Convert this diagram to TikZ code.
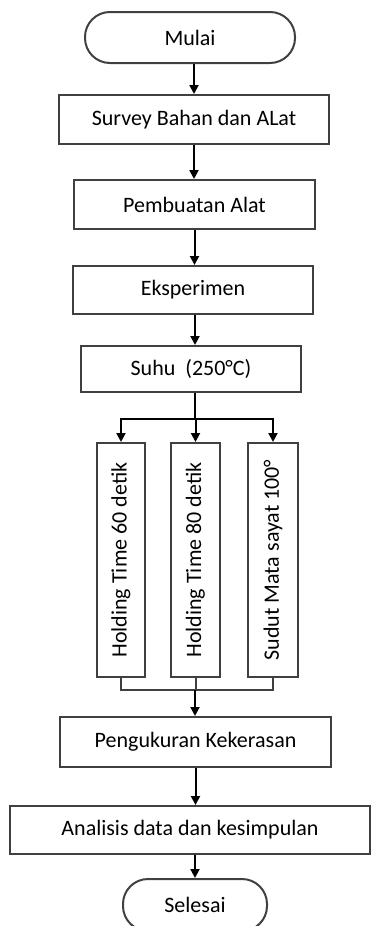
\documentclass[tikz,border=0pt]{standalone}
\usepackage{fontspec}
\setmainfont{Carlito}
\usetikzlibrary{arrows.meta}
\begin{document}
\begin{tikzpicture}[x=0.5pt,y=-0.5pt,
  box/.style={draw=black!75, line width=1pt, align=center, inner sep=0pt, font=\fontsize{11}{13}\selectfont},
  term/.style={box, rounded corners=12.5pt},
  arr/.style={-{Triangle[width=4.5pt,length=4.5pt]}, line width=1pt}]
\useasboundingbox (0,0) rectangle (374,926);
% main column
\node[term, minimum width=105pt, minimum height=25.5pt] (mulai) at (190,37.5) {Mulai};
\node[box, minimum width=135pt, minimum height=24.5pt] (survey) at (194,119.5) {Survey Bahan dan ALat};
\node[box, minimum width=120.5pt, minimum height=24.5pt] (buat) at (194.5,204.5) {Pembuatan Alat};
\node[box, minimum width=120pt, minimum height=24pt] (eksp) at (193,290) {Eksperimen};
\node[box, minimum width=110pt, minimum height=23pt] (suhu) at (191,369) {Suhu\ \ (250°C)};
% three variations
\node[box, minimum width=24pt, minimum height=117pt] (hold1) at (121,560) {\rotatebox{90}{Holding Time 60 detik}};
\node[box, minimum width=24.5pt, minimum height=117pt] (hold2) at (195.5,560) {\rotatebox{90}{Holding Time 80 detik}};
\node[box, minimum width=25pt, minimum height=117pt] (sudut) at (273,560) {\rotatebox{90}{Sudut Mata sayat 100°}};
\node[box, minimum width=135.5pt, minimum height=25pt] (ukur) at (195.5,742) {Pengukuran Kekerasan};
\node[box, minimum width=180pt, minimum height=24pt] (analisis) at (190,830) {Analisis data dan kesimpulan};
\node[term, minimum width=72pt, minimum height=26pt] (selesai) at (195,905) {Selesai};
\coordinate (split) at (195,419);
\coordinate (merge) at (195,690);
% connectors
\draw[arr] (survey.north |- mulai.south) -- (survey.north);
\draw[arr] (survey.south) -- (survey.south |- buat.north);
\draw[arr] (buat.south) -- (buat.south |- eksp.north);
\draw[arr] (eksp.south -| split) -- (split |- suhu.north);
\draw[line width=1pt] (split |- suhu.south) -- (split);
\foreach \h in {hold1,hold2,sudut} \draw[arr] (split) -| (\h.north);
\foreach \h in {hold1,hold2,sudut} \draw[line width=1pt, black!75] (\h.south) |- (merge);
\draw[arr] (merge) -- (merge |- ukur.north);
\draw[arr] (ukur.south) -- (ukur.south |- analisis.north);
\draw[arr] (analisis.south -| selesai.north) -- (selesai.north);
\end{tikzpicture}
\end{document}
